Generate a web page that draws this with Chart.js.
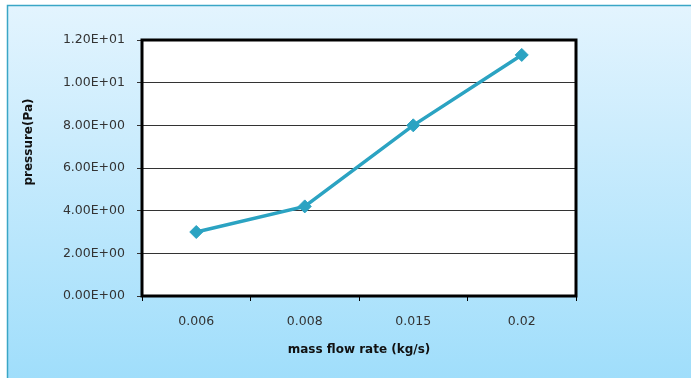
<!DOCTYPE html>
<html>
<head>
<meta charset="utf-8">
<script src="https://cdn.jsdelivr.net/npm/chart.js@4/dist/chart.umd.min.js"></script>
<style>
  html, body { margin: 0; padding: 0; background: #fff; }
  #wrap { width: 691px; height: 378px; }
</style>
</head>
<body>
<div id="wrap"><canvas id="pressureChart" width="691" height="378"></canvas></div>
<script>
// chart data
const flowRates = ["0.006", "0.008", "0.015", "0.02"]
const pressures = [3.0, 4.2, 8.0, 11.3]
const yTicks = [0, 2, 4, 6, 8, 10, 12]

const xTitle = "mass flow rate (kg/s)"
const yTitle = "pressure(Pa)"

// 1.20E+01 style labels
function sciLabel(value) {
  const parts = Number(value).toExponential(2).split("e")
  const exp = parseInt(parts[1], 10)
  const sign = exp < 0 ? "-" : "+"
  return parts[0] + "E" + sign + String(Math.abs(exp)).padStart(2, "0")
}

// background panel, plot frame and y title
const panelPlugin = {
  id: "panel",
  beforeDraw(chart) {
    const ctx = chart.ctx
    const area = chart.chartArea
    ctx.save()
    ctx.fillStyle = "#ffffff"
    ctx.fillRect(0, 0, chart.width, chart.height)

    const grad = ctx.createLinearGradient(0, 6, 0, chart.height)
    grad.addColorStop(0, "#e3f4fe")
    grad.addColorStop(1, "#a0defb")
    ctx.fillStyle = grad
    ctx.fillRect(7, 6, chart.width - 7, chart.height - 6)

    ctx.strokeStyle = "#3aa6c6"
    ctx.lineWidth = 1.5
    ctx.beginPath()
    ctx.moveTo(7.5, chart.height)
    ctx.lineTo(7.5, 5.5)
    ctx.lineTo(chart.width, 5.5)
    ctx.stroke()

    ctx.fillStyle = "#ffffff"
    ctx.fillRect(area.left, area.top, area.right - area.left, area.bottom - area.top)

    ctx.translate(29, 142)
    ctx.rotate(-Math.PI / 2)
    ctx.fillStyle = "#111"
    ctx.font = "bold 12px 'DejaVu Sans'"
    ctx.textAlign = "center"
    ctx.textBaseline = "middle"
    ctx.fillText(yTitle, 0, 0)
    ctx.restore()
  },
  beforeDatasetsDraw(chart) {
    const ctx = chart.ctx
    const area = chart.chartArea
    ctx.save()
    ctx.strokeStyle = "#000"
    ctx.lineWidth = 3
    ctx.strokeRect(area.left, area.top, area.right - area.left, area.bottom - area.top)
    ctx.restore()
  },
}

const ctx = document.getElementById("pressureChart").getContext("2d")
new Chart(ctx, {
  type: "line",
  data: {
    labels: flowRates,
    datasets: [
      {
        label: "pressure",
        data: pressures,
        borderColor: "#2ba3c2",
        backgroundColor: "#2ba3c2",
        borderWidth: 3.5,
        pointStyle: "rectRot",
        pointRadius: 6.5,
        pointHoverRadius: 6.5,
        pointBorderWidth: 1,
        tension: 0,
      },
    ],
  },
  options: {
    responsive: false,
    animation: false,
    devicePixelRatio: 1,
    layout: { padding: { left: 20, top: 40, right: 115, bottom: 0 } },
    plugins: {
      legend: { display: false },
      tooltip: { enabled: false },
    },
    scales: {
      x: {
        offset: true,
        afterFit: (scale) => { scale.height = 82 },
        grid: {
          offset: true,
          drawOnChartArea: false,
          tickLength: 5,
          color: "#000",
        },
        border: { display: false },
        ticks: {
          padding: 13,
          color: "#333",
          font: { family: "'DejaVu Sans'", size: 12.5 },
        },
        title: {
          display: true,
          text: xTitle,
          color: "#111",
          font: { family: "'DejaVu Sans'", size: 12, weight: "bold" },
          padding: { top: 0, bottom: 21 },
        },
      },
      y: {
        min: 0,
        max: 12,
        afterFit: (scale) => { scale.width = 122 },
        afterBuildTicks: (scale) => {
          scale.ticks = yTicks.map((v) => ({ value: v }))
        },
        grid: {
          tickLength: 5,
          color: "#333",
          lineWidth: 1,
        },
        border: { display: false },
        ticks: {
          padding: 12,
          color: "#333",
          font: { family: "'DejaVu Sans'", size: 12.5 },
          callback: (value) => sciLabel(value),
        },
      },
    },
  },
  plugins: [panelPlugin],
})
</script>
</body>
</html>
